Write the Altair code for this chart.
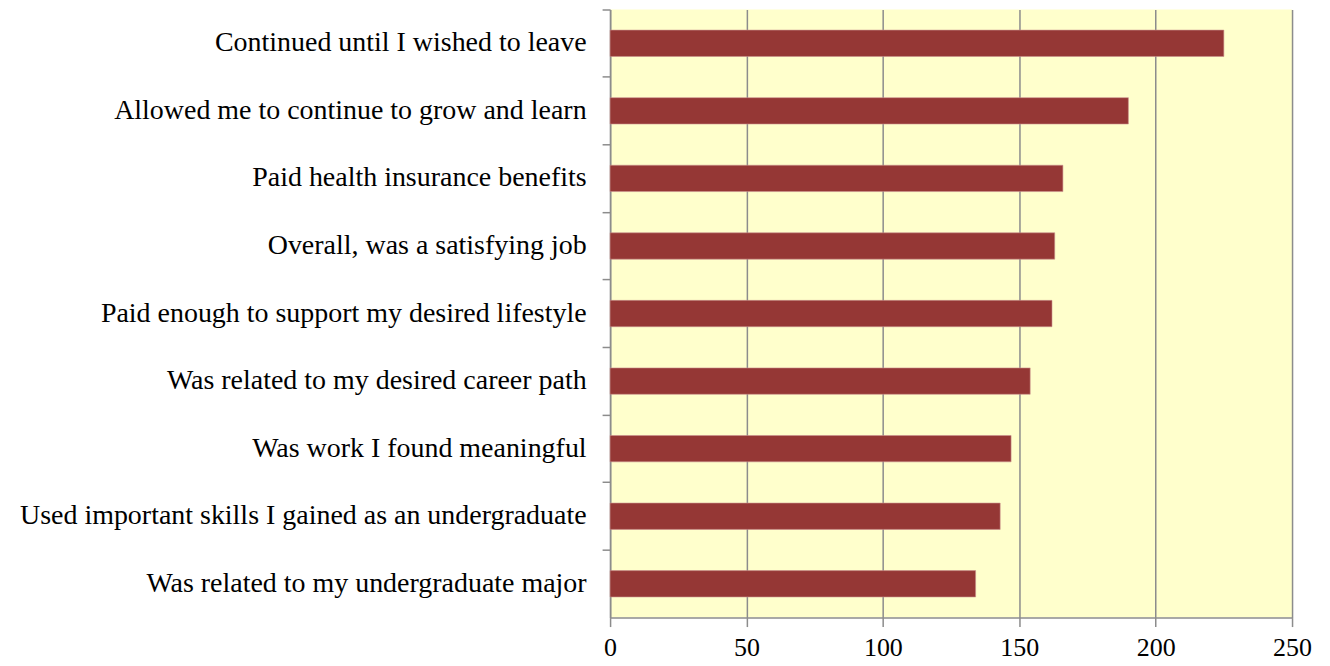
import altair as alt
import pandas as pd

categories = [
    "Continued until I wished to leave",
    "Allowed me to continue to grow and learn",
    "Paid health insurance benefits",
    "Overall, was a satisfying job",
    "Paid enough to support my desired lifestyle",
    "Was related to my desired career path",
    "Was work I found meaningful",
    "Used important skills I gained as an undergraduate",
    "Was related to my undergraduate major",
]
values = [225, 190, 166, 163, 162, 154, 147, 143, 134]
x_ticks = [0, 50, 100, 150, 200, 250]

df = pd.DataFrame({"item": categories, "count": values})

FONT = "Liberation Serif"
GRAY = "#8c8c8c"
PLOT_W = 683
PLOT_H = 609

chart = (
    alt.Chart(df)
    .mark_bar(color="#953735", height={"band": 0.39}, stroke="#c9918f", strokeWidth=0.6)
    .encode(
        x=alt.X(
            "count:Q",
            scale=alt.Scale(domain=[0, 250], nice=False, zero=True),
            axis=alt.Axis(
                values=x_ticks,
                title=None,
                grid=True,
                gridColor=GRAY,
                gridWidth=1.5,
                domainColor=GRAY,
                domainWidth=1.5,
                tickColor=GRAY,
                tickWidth=1.5,
                tickSize=9,
                labelFont=FONT,
                labelFontSize=26,
                labelColor="black",
                labelPadding=8,
                labelFlush=False,
            ),
        ),
        y=alt.Y(
            "item:N",
            sort=categories,
            scale=alt.Scale(paddingInner=0, paddingOuter=0),
            axis=alt.Axis(
                title=None,
                bandPosition=0,
                domainColor=GRAY,
                domainWidth=1.5,
                tickColor=GRAY,
                tickWidth=1.5,
                tickSize=8,
                labelFont=FONT,
                labelFontSize=28,
                labelColor="black",
                labelPadding=16,
                labelLimit=700,
                grid=False,
            ),
        ),
    )
    .properties(
        width=PLOT_W,
        height=PLOT_H,
        autosize=alt.AutoSizeParams(type="none"),
        padding={"left": 603, "top": 1, "right": 30, "bottom": 48},
    )
    .configure_view(fill="#FFFFCC", stroke=None)
)

chart.save("out.html", embed_options={"renderer": "svg", "actions": False})
